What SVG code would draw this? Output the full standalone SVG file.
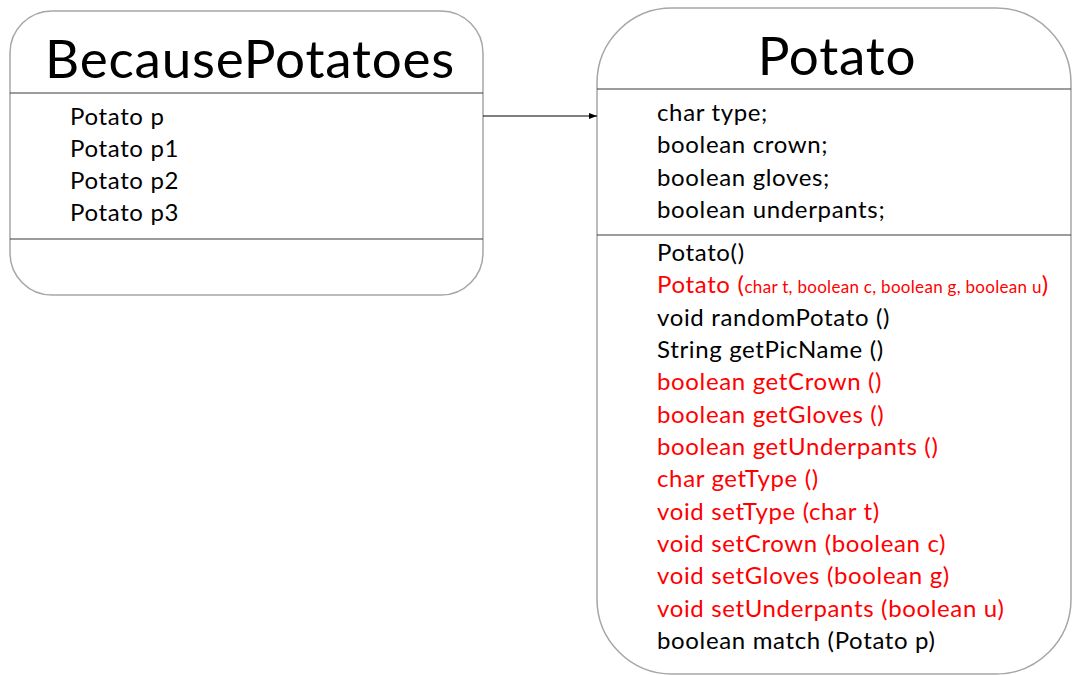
<svg xmlns="http://www.w3.org/2000/svg" width="1076" height="675" viewBox="0 0 1076 675">
<style>
.box{fill:#fff;stroke:#a6a6a6;stroke-width:1.5}
.div{stroke:#3a3a3a;stroke-width:1.2}
.t{font-family:Lato,"Open Sans",sans-serif;font-size:24px;letter-spacing:0.65px;fill:#000}
.r{fill:#ff0000}
.title{font-family:Lato,"Open Sans",sans-serif;font-size:53px;letter-spacing:0.8px;fill:#000;text-anchor:middle}
.sm{font-size:17px;letter-spacing:0.3px}
</style>
<defs>
<marker id="ah" markerWidth="8" markerHeight="6" refX="8" refY="3" orient="auto" markerUnits="userSpaceOnUse">
<path d="M0,0 L8,3 L0,6 Z" fill="#000"/>
</marker>
</defs>
<g id="BecausePotatoes">
<rect class="box" x="10" y="11" width="473" height="284" rx="42" ry="42"/>
<line class="div" x1="10" y1="93" x2="483" y2="93"/>
<line class="div" x1="10" y1="239" x2="483" y2="239"/>
<text class="title" x="250" y="78">BecausePotatoes</text>
<text class="t" x="70" y="125">Potato p</text>
<text class="t" x="70" y="157">Potato p1</text>
<text class="t" x="70" y="189">Potato p2</text>
<text class="t" x="70" y="221">Potato p3</text>
</g>
<g id="Potato">
<rect class="box" x="597" y="8" width="474" height="666" rx="75" ry="75"/>
<line class="div" x1="597" y1="89" x2="1071" y2="89"/>
<line class="div" x1="597" y1="235" x2="1071" y2="235"/>
<text class="title" x="837" y="75">Potato</text>
<text class="t" x="657" y="121">char type;</text>
<text class="t" x="657" y="153">boolean crown;</text>
<text class="t" x="657" y="186">boolean gloves;</text>
<text class="t" x="657" y="218">boolean underpants;</text>
<text class="t" x="657" y="261">Potato()</text>
<text class="t r" x="657" y="293">Potato (<tspan class="sm">char t, boolean c, boolean g, boolean u</tspan>)</text>
<text class="t" x="657" y="326">void randomPotato ()</text>
<text class="t" x="657" y="358">String getPicName ()</text>
<text class="t r" x="657" y="390">boolean getCrown ()</text>
<text class="t r" x="657" y="423">boolean getGloves ()</text>
<text class="t r" x="657" y="455">boolean getUnderpants ()</text>
<text class="t r" x="657" y="487">char getType ()</text>
<text class="t r" x="657" y="520">void setType (char t)</text>
<text class="t r" x="657" y="552">void setCrown (boolean c)</text>
<text class="t r" x="657" y="584">void setGloves (boolean g)</text>
<text class="t r" x="657" y="617">void setUnderpants (boolean u)</text>
<text class="t" x="657" y="649">boolean match (Potato p)</text>
</g>
<g id="connectors">
<line x1="483" y1="116" x2="597" y2="116" stroke="#000" stroke-width="1.2" marker-end="url(#ah)"/>
</g>
</svg>
